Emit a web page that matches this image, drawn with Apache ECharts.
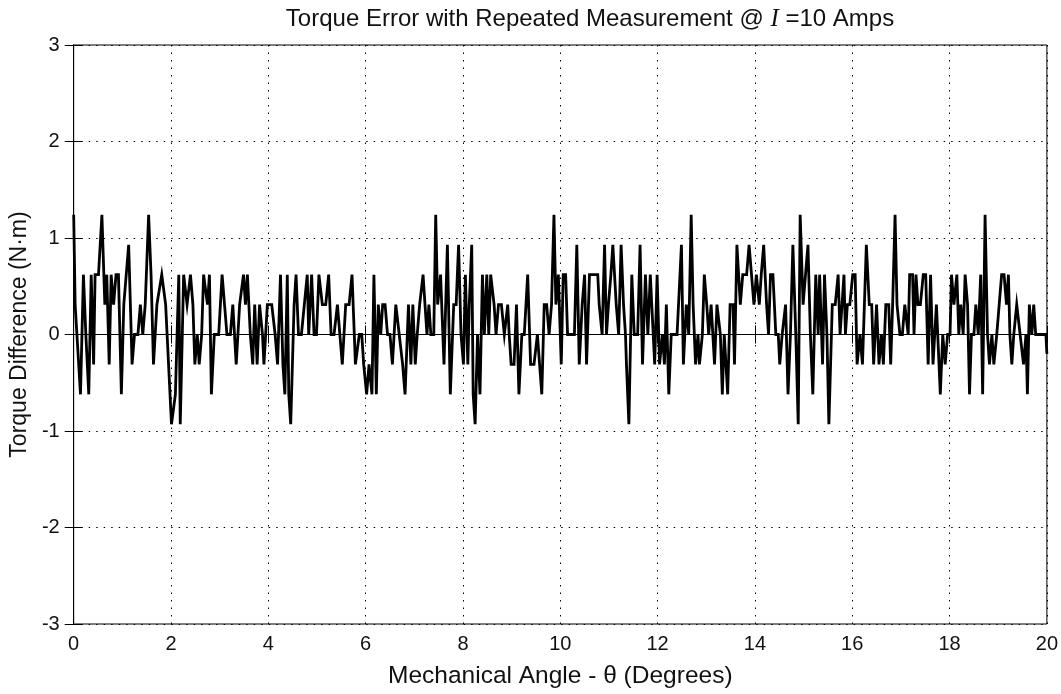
<!DOCTYPE html>
<html>
<head>
<meta charset="utf-8">
<script src="https://cdn.jsdelivr.net/npm/echarts@6/dist/echarts.min.js"></script>
<style>html,body{margin:0;padding:0;background:#fff;}#c{width:1061px;height:694px;}</style>
</head>
<body>
<div id="c"></div>
<script>
// Mechanical angle (degrees)
const angles = [
0,0.03,0.14,0.20,0.25,0.31,0.36,0.41,0.44,0.51,0.58,0.64,0.68,0.73,0.77,0.82,0.87,0.92,0.98,1.03,1.13,1.20,1.25,1.32,1.37,1.42,1.47,1.54,1.59,1.64,1.71,1.81,
1.89,2.01,2.09,2.16,2.19,2.26,2.33,2.40,2.45,2.49,2.54,2.58,2.63,2.67,2.71,2.75,2.79,2.83,2.89,2.98,3.05,3.10,3.15,3.22,3.27,3.34,3.41,3.49,3.53,3.57,3.63,3.68,3.72,3.77,3.82,
3.88,3.91,3.98,4.07,4.14,4.19,4.25,4.30,4.34,4.39,4.42,4.46,4.53,4.57,4.62,4.68,4.74,4.80,4.83,4.89,4.94,4.99,5.04,5.11,5.18,5.24,5.29,5.35,5.42,5.52,5.59,5.66,5.72,5.79,
5.87,5.92,5.96,6.02,6.07,6.13,6.17,6.22,6.26,6.31,6.35,6.40,6.45,6.50,6.55,6.62,6.69,6.76,6.81,6.88,6.93,6.97,7.02,7.06,7.11,7.18,7.22,7.26,7.30,7.34,7.40,7.44,7.48,7.54,7.61,7.68,7.74,7.81,
7.86,7.91,7.96,8.01,8.05,8.10,8.13,8.18,8.21,8.25,8.30,8.35,8.40,8.44,8.49,8.53,8.57,8.64,8.68,8.73,8.79,8.85,8.92,8.95,8.99,9.05,9.10,9.15,9.21,9.26,9.33,9.39,9.46,9.53,9.62,9.67,9.72,9.77,9.82,
9.87,9.91,9.96,10.02,10.06,10.11,10.15,10.22,10.29,10.34,10.39,10.45,10.50,10.54,10.60,10.65,10.71,10.77,10.80,10.86,10.91,10.95,10.99,11.04,11.08,11.15,11.20,11.25,11.30,11.34,11.36,11.41,11.47,11.52,11.59,11.64,11.69,11.75,11.80,
11.85,11.89,11.94,11.99,12.04,12.10,12.14,12.18,12.23,12.28,12.35,12.40,12.49,12.53,12.59,12.64,12.69,12.73,12.78,12.83,12.86,12.92,12.96,13.01,13.05,13.10,13.17,13.22,13.29,13.33,13.37,13.44,13.49,13.55,13.58,13.63,13.70,13.75,13.79,
13.83,13.88,13.93,13.98,14.03,14.09,14.13,14.18,14.24,14.28,14.32,14.37,14.43,14.48,14.51,14.56,14.63,14.68,14.73,14.78,14.84,14.89,14.93,14.99,15.04,15.09,15.14,15.19,15.25,15.30,15.33,15.39,15.43,15.48,15.52,15.59,15.65,15.71,15.75,
15.83,15.86,15.90,15.95,16.01,16.06,16.10,16.16,16.21,16.29,16.35,16.40,16.44,16.50,16.55,16.60,16.64,16.69,16.75,16.79,16.83,16.88,16.92,16.98,17.03,17.08,17.15,17.18,17.24,17.27,17.31,17.35,17.40,17.46,17.51,17.56,17.61,17.66,17.73,
17.81,17.86,17.91,17.96,18.01,18.04,18.09,18.15,18.19,18.23,18.28,18.32,18.37,18.41,18.45,18.50,18.54,18.59,18.64,18.68,18.73,18.78,18.82,18.87,18.91,18.97,19.02,19.07,19.12,19.17,19.21,19.24,19.28,19.32,19.38,19.45,19.52,19.57,19.60,19.64,19.69,19.73,19.77,19.86,19.98,20.0
];
// Torque difference (N·m)
const torqueDiff = [
1.24,0.31,-0.62,0.62,0,-0.62,0.62,-0.31,0.62,0.62,1.24,0.31,0.62,-0.31,0.62,0.31,0.62,0.62,-0.62,0.31,0.93,-0.31,0,0,0.31,0,0.31,1.24,0.62,-0.31,0.31,0.62,
0.31,-0.93,-0.62,0.62,-0.93,0.62,0.31,0.62,0.31,-0.31,0,-0.31,0,0.62,0.62,0.31,0.62,-0.62,0,0,0.62,0.31,0,0,0.31,-0.31,0.31,0.62,0.31,0.62,0,-0.31,0.31,-0.31,0.31,
0,-0.31,0.31,0.31,0,-0.31,0.62,-0.31,-0.62,0.62,-0.62,-0.93,0.31,0.62,0,0,0.31,0.62,0,0.62,0,0,0.62,0.31,0.31,0.62,0,0,0.31,-0.31,0.31,0.31,0.62,-0.31,
0,0,-0.31,-0.62,-0.31,-0.62,0.62,-0.62,0.31,0,0.31,0.31,0,0,-0.31,0.31,0,-0.31,-0.62,0.31,-0.31,0.31,-0.31,0,0.31,0.62,0.31,0,0.31,0,0,1.24,0.31,0.62,-0.31,0.93,-0.62,0.31,
0.31,0.93,0,-0.31,0.62,-0.31,0.31,0.93,-0.62,-0.93,0,-0.62,0.62,0,0.62,0,0.62,0.31,0,0.31,0.31,0,0.31,0,-0.31,-0.31,0.31,-0.62,0,0,0.62,-0.31,-0.31,0,-0.62,0.31,0.31,0,0.31,
1.24,0.31,0.62,-0.31,0.62,0.62,0,0,0,0.93,-0.31,0.31,0.62,-0.31,0.62,0.62,0.62,0.62,0.31,0,0.93,0,0.31,0.62,0.93,0.31,0,0.93,0.31,0,-0.31,-0.93,0.62,0,0,0.93,-0.31,0.62,0,
0.62,0.62,-0.31,0.62,-0.31,0,-0.31,0.31,-0.62,0,0,0,0.93,-0.31,0.31,0,1.24,0.31,-0.31,0,-0.31,0,0.62,0.31,0,0.31,-0.31,0.31,0,-0.62,0,-0.62,0.31,0.31,-0.31,0.93,0.31,0.62,0.62,
0.62,0.93,0.62,0.31,0.62,0.31,0.62,0.93,0.31,0,0.62,0.62,0,0,-0.31,0,0.31,-0.62,0,0.93,0,-0.93,1.24,0.31,0.62,0.93,0,-0.62,0.62,0,0.62,-0.31,0.62,0,-0.93,0.31,0.31,0.62,0,
0.62,0,0.31,0.31,0.62,0.62,-0.31,0,-0.31,0.93,0.31,0.31,-0.31,0.31,-0.31,0,-0.31,0.31,0.31,-0.31,0.31,1.24,0.31,0,0,0.31,0,0.62,0.62,0,0.62,0.31,0.31,0.62,0.62,-0.31,0.62,-0.31,0.31,
-0.62,0,-0.31,0,0,0.62,0.31,0.62,0,0.31,0,0.62,0.31,-0.62,0,0,0.31,0,0.62,-0.62,1.24,0,-0.31,0,-0.31,0,0.31,0.62,0.62,0.31,0.62,0,-0.31,0,0.31,0,-0.31,0,-0.62,0.31,0,0.31,0,0,0,-0.2
];
const xTicks = [0,2,4,6,8,10,12,14,16,18,20];
const yTicks = [-3,-2,-1,0,1,2,3];

const FONT = '"Liberation Sans", Arial, Helvetica, sans-serif';
const seriesData = angles.map((a, i) => [a, torqueDiff[i]]);

const chart = echarts.init(document.getElementById('c'), null, {renderer: 'canvas'});
const dotted = {show: true, lineStyle: {color: '#000', width: 1, type: [1.5, 6]}};
const tick = {show: true, inside: true, length: 9, lineStyle: {color: '#000', width: 1}};
chart.setOption({
  backgroundColor: '#fff',
  animation: false,
  title: {
    text: '{a|Torque Error with Repeated Measurement @ }{i|I}{a| =10 Amps}',
    left: 585, top: 2, textAlign: 'center',
    textStyle: {
      fontWeight: 'normal',
      rich: {
        a: {fontFamily: FONT, fontSize: 24, fontWeight: 'normal', color: '#111'},
        i: {fontFamily: '"Liberation Serif", "DejaVu Serif", serif', fontStyle: 'italic', fontWeight: 'normal', fontSize: 25, color: '#111'}
      }
    }
  },
  grid: {left: 73, right: 13, top: 45, bottom: 69, show: true, borderColor: '#000', borderWidth: 1},
  xAxis: [{
    type: 'value', min: xTicks[0], max: xTicks[xTicks.length - 1], interval: 2,
    name: 'Mechanical Angle - θ (Degrees)', nameLocation: 'middle', nameGap: 40,
    nameTextStyle: {fontFamily: FONT, fontSize: 24.5, color: '#111'},
    axisLine: {show: true, lineStyle: {color: '#000', width: 1}},
    axisTick: tick,
    axisLabel: {fontFamily: FONT, fontSize: 20, color: '#111', margin: 10},
    splitLine: dotted
  }, {
    type: 'value', position: 'top', min: xTicks[0], max: xTicks[xTicks.length - 1], interval: 2,
    axisLine: {show: true, lineStyle: {color: '#000'}}, axisTick: tick, axisLabel: {show: false}, splitLine: {show: false}
  }],
  yAxis: [{
    type: 'value', min: yTicks[0], max: yTicks[yTicks.length - 1], interval: 1,
    name: 'Torque Difference (N·m)', nameLocation: 'middle', nameGap: 37,
    nameTextStyle: {fontFamily: FONT, fontSize: 23, color: '#111'},
    axisLine: {show: true, lineStyle: {color: '#000', width: 1}},
    axisTick: tick,
    axisLabel: {fontFamily: FONT, fontSize: 20, color: '#111', margin: 14},
    splitLine: dotted
  }, {
    type: 'value', position: 'right', min: yTicks[0], max: yTicks[yTicks.length - 1], interval: 1,
    axisLine: {show: true, lineStyle: {color: '#000'}}, axisTick: tick, axisLabel: {show: false}, splitLine: {show: false}
  }],
  series: [{
    type: 'line', data: seriesData, xAxisIndex: 0, yAxisIndex: 0,
    showSymbol: false, symbol: 'none',
    lineStyle: {color: '#000', width: 2.8, join: 'miter'},
    z: 5
  }]
});
</script>
</body>
</html>
